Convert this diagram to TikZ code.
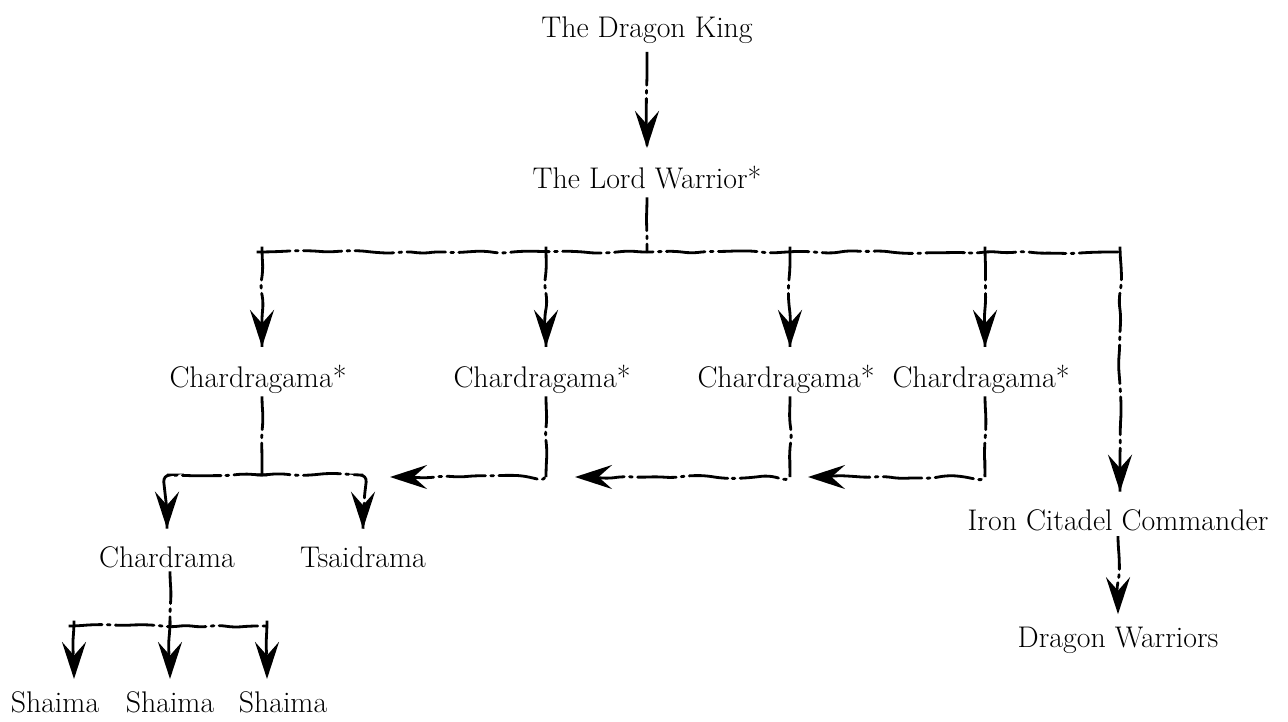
\documentclass[tikz,border=0pt]{standalone}
\usepackage{tikz}
\usetikzlibrary{arrows.meta}
\usetikzlibrary{decorations.pathmorphing}

\begin{document}
\begin{tikzpicture}[x=0.02cm, y=-0.02cm, text depth=0pt,
	rank/.style={font=\fontsize{17}{20}\selectfont, inner sep=4pt},
	wobbly/.style={line width=1.6pt, line cap=round, rounded corners=4pt,
		dash pattern=on 22pt off 3pt on 1.6pt off 3pt,
		decorate, decoration={random steps, segment length=9pt, amplitude=1pt, pre length=1pt, post length=10pt}},
	barb/.style={wobbly, shorten >=6pt, -{Stealth[length=0.74cm, width=0.48cm, inset=0.27cm]}}
]
	\pgfmathsetseed{11}
	\useasboundingbox (0, 0) rectangle (1288, 721);

	% top of the chart
	\node[rank] (king) at (647, 27) {The Dragon King};
	\node[rank] (lord) at (647, 177) {The Lord Warrior*};
	\draw[barb] ([yshift=-7pt]king.south) -- (lord);

	% the long bar
	\coordinate (hub) at (647, 252);
	\coordinate (top5) at (1120, 252);
	\draw[wobbly] ([yshift=-4pt]lord.south) -- (hub);
	\draw[wobbly] (262, 252) coordinate (top1) -- (top5);

	% chardragama
	\foreach \n/\x in {1/262, 2/546, 3/790, 4/985}{
		\node[rank] (cg\n) at (\x-4, 376) {Chardragama*};
		\coordinate (top\n) at (\x, 252);
		\draw[barb] (top\n) -- (top\n |- cg\n.north);
	}

	% iron citadel
	\node[rank] (iron) at (1118, 520) {Iron Citadel Commander};
	\node[rank] (troops) at (1118, 637) {Dragon Warriors};
	\draw[barb] (top5) -- (top5 |- iron.north);
	\draw[barb, shorten >=3pt] ([yshift=-2pt]iron.south) -- (troops);

	% first chardragama
	\coordinate (fork) at (262, 475);
	\node[rank] (cd) at (167, 557) {Chardrama};
	\node[rank] (td) at (363, 557) {Tsaidrama};
	\draw[wobbly] ([yshift=-4pt]cg1.south -| fork) -- (fork);
	\draw[barb] (fork) -| (cd);
	\draw[barb] (fork) -| (td);

	% the other three
	\foreach \n/\x/\e in {2/546/390, 3/790/575, 4/985/808}{
		\coordinate (end\n) at (\e, 477);
		\draw[barb, shorten >=0pt] ([yshift=-4pt]cg\n.south -| top\n) |- (end\n);
	}

	% shaima
	\coordinate (split) at (170, 626);
	\draw[wobbly] ([yshift=-1pt]cd.south -| split) -- (split);
	\foreach \n/\x/\a in {1/55/74, 2/170/170, 3/283/267}{
		\node[rank] (sh\n) at (\x, 702) {Shaima};
		\coordinate (drop\n) at (\a, 626);
		\draw[barb, shorten >=3pt] (drop\n) -- (drop\n |- sh\n.north);
	}
	\draw[wobbly] (drop1) -- (drop3);
\end{tikzpicture}
\end{document}
